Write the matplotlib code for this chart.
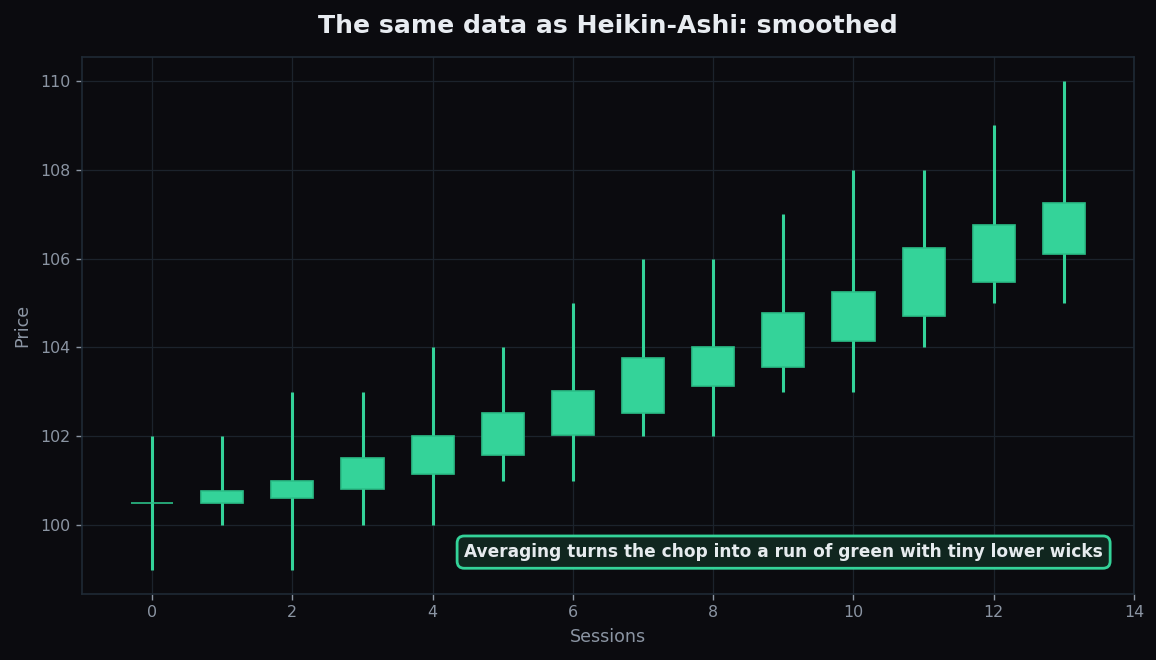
import numpy as np
import matplotlib
matplotlib.use("Agg")
import matplotlib.pyplot as plt

# Heikin-Ashi candles
sessions = list(range(14))
ha_open = [100.5, 100.5, 100.62, 100.81, 101.15, 101.58, 102.04, 102.52, 103.14, 103.57, 104.15, 104.71, 105.47, 106.1]
ha_close = [100.5, 100.76, 101.0, 101.51, 102.0, 102.52, 103.01, 103.76, 104.0, 104.77, 105.26, 106.25, 106.75, 107.26]
ha_high = [102, 102, 103, 103, 104, 104, 105, 106, 106, 107, 108, 108, 109, 110]
ha_low = [99, 100, 99, 100, 100, 101, 101, 102, 102, 103, 103, 104, 105, 105]

bg = "#0b0b0f"
green = "#34d399"
grid_c = "#1c232c"
tick_c = "#8b95a3"
title_c = "#e8ecf1"

fig = plt.figure(figsize=(11.56, 6.6), dpi=100, facecolor=bg)
ax = fig.add_axes([0.0709, 0.1, 0.9101, 0.8136])
ax.set_facecolor(bg)

x = np.array(sessions)
o = np.array(ha_open)
c = np.array(ha_close)
lo_body = np.minimum(o, c)
hi_body = np.maximum(o, c)

ax.vlines(x, ha_low, ha_high, color=green, linewidth=2.2, zorder=2)
ax.bar(x, hi_body - lo_body, bottom=lo_body, width=0.6, color=green,
       edgecolor="#2bbf88", linewidth=1.2, zorder=3)

ax.set_xlim(-1, 14)
ax.set_ylim(98.45, 110.54)
ax.set_xticks(np.arange(0, 15, 2))
ax.set_yticks(np.arange(100, 111, 2))

ax.grid(True, color=grid_c, linewidth=0.9, zorder=0)
ax.set_axisbelow(True)
for s in ax.spines.values():
    s.set_color("#1f2a35")
    s.set_linewidth(1.2)
ax.tick_params(colors=tick_c, labelsize=11.4, length=4.5, width=1.0)

ax.set_xlabel("Sessions", color=tick_c, fontsize=12.6, labelpad=6)
ax.set_ylabel("Price", color=tick_c, fontsize=12.6, labelpad=7)
ax.set_title("The same data as Heikin-Ashi: smoothed", color=title_c,
             fontsize=18.1, fontweight="bold", pad=17.5)

ax.text(0.9705, 0.078, "Averaging turns the chop into a run of green with tiny lower wicks",
        transform=ax.transAxes, ha="right", va="center", fontsize=12.25,
        fontweight="bold", color="#e6ebee", zorder=5,
        bbox=dict(boxstyle="round,pad=0.42", facecolor="#10261f",
                  edgecolor=green, linewidth=2))

fig.savefig("out.png", dpi=100, facecolor=bg)
